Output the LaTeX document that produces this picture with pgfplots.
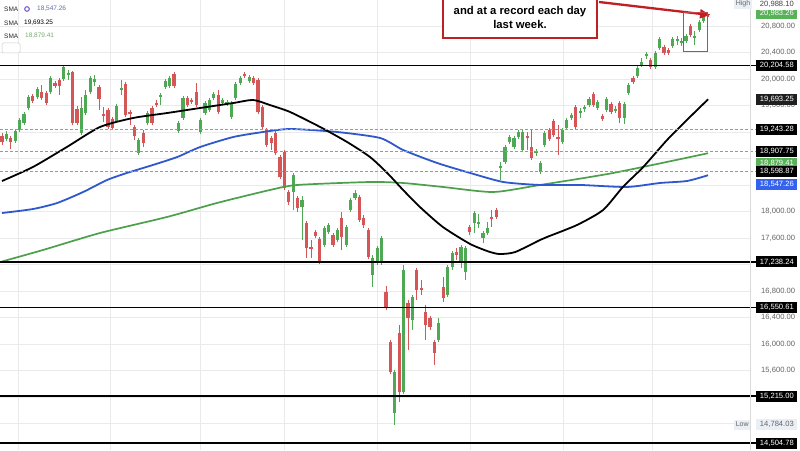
\documentclass[border=0pt]{standalone}
\usepackage{pgfplots}
\pgfplotsset{compat=1.18}
\usepackage{pgfplotstable}
\usepackage{fontspec}
\setmainfont{Liberation Sans}
\usetikzlibrary{arrows.meta}

\definecolor{cgreen}{RGB}{78,168,84}
\definecolor{cred}{RGB}{212,86,86}
\definecolor{smablue}{RGB}{48,88,205}
\definecolor{smagreen}{RGB}{76,160,76}
\definecolor{lblgreen}{RGB}{88,178,88}
\definecolor{lblblue}{RGB}{52,98,238}
\definecolor{annred}{RGB}{192,32,36}
\definecolor{gridc}{RGB}{234,234,236}
\definecolor{tickc}{RGB}{100,100,100}
\definecolor{hlbg}{RGB}{234,239,246}
\definecolor{iconc}{RGB}{125,95,205}
\definecolor{leg1}{RGB}{95,110,160}
\definecolor{leg3}{RGB}{120,172,110}

% i open high low close  (green = close >= open)
\pgfplotstableread{
i o h l c
1 19094 19215 19064 19169
3 19064 19245 19034 19215
4 19230 19411 19200 19381
5 19335 19501 19305 19471
6 19562 19758 19532 19728
8 19728 19879 19698 19849
11 19803 20045 19773 20015
14 20000 20204.58 19969 20181
15 20060 20135 19984 20090
18 19184 19728 19154 19562
19 19486 19833 19456 19758
20 19803 20045 19773 20015
21 19954 20060 19894 20000
26 19366 19622 19335 19592
27 19833 19984 19758 19864
31 18883 19109 18852 19079
33 19335 19517 19305 19486
36 19728 19788 19607 19758
37 19879 20000 19849 19969
38 19894 20045 19864 20015
40 19215 19366 19184 19335
41 19411 19743 19381 19713
45 19200 19411 19169 19381
46 19486 19668 19456 19637
47 19532 19713 19501 19683
48 19713 19803 19683 19773
50 19637 19713 19607 19683
51 19622 19683 19592 19652
52 19426 19668 19396 19637
53 19713 19954 19683 19924
54 19939 20045 19909 20015
56 19969 20060 19939 20030
66 18294 18581 18022 18551
68 18068 18234 17569 18173
73 17494 17781 17464 17751
74 17690 17826 17660 17796
76 17569 17751 17539 17720
78 17494 17796 17464 17766
79 18022 18203 17992 18173
80 18203 18324 18173 18279
84 17041 17343 16860 17298
85 17222 17479 17192 17449
86 17222 17630 17192 17600
89 14958 15607 14784.03 15577
91 15275 17192 15245 17117
93 16362 16739 16211 16709
99 16060 16392 16030 16317
101 16739 17192 16709 17162
102 17162 17403 17117 17373
104 17222 17494 17147 17464
105 17086 17479 16966 17449
107 17826 18007 17675 17977
108 17811 17962 17751 17841
109 17600 17705 17524 17675
110 17675 17841 17645 17751
113 18656 18747 18475 18686
114 18747 19003 18717 18973
115 19049 19154 19018 19124
116 18973 19139 18943 19109
117 19124 19230 19094 19200
118 18928 19230 18898 19200
121 18883 18943 18837 18913
122 18596 18762 18566 18732
123 19003 19215 18973 19184
127 19049 19260 19018 19230
128 19260 19411 19230 19381
129 19411 19486 19381 19456
131 19486 19562 19411 19517
132 19547 19607 19501 19577
133 19607 19728 19577 19698
135 19562 19683 19532 19652
137 19532 19728 19501 19698
139 19517 19592 19486 19547
141 19411 19652 19320 19622
142 19788 19939 19758 19909
144 20045 20196 20015 20166
145 20211 20317 20181 20256
146 20347 20407 20301 20377
148 20181 20422 20150 20392
149 20467 20633 20437 20603
152 20498 20633 20467 20603
153 20573 20649 20513 20603
154 20543 20618 20498 20573
155 20573 20679 20543 20649
157 20618 20724 20513 20649
158 20739 20890 20709 20860
159 20875 20980 20845 20966
}\greencandles

\pgfplotstableread{
i o h l c
0 19139 19184 19003 19049
2 19109 19139 18943 19049
7 19743 19773 19637 19668
9 19803 19909 19683 19713
10 19788 19818 19607 19637
12 19939 19969 19864 19894
13 19984 20015 19758 19894
16 20105 20120 19305 19335
17 19547 19592 19305 19335
22 19879 19909 19532 19698
23 19471 19577 19350 19441
24 19532 19562 19245 19275
25 19396 19426 19230 19260
28 19924 19954 19426 19456
29 19501 19532 19305 19471
30 19275 19305 19079 19139
32 19184 19230 18973 19034
34 19562 19592 19305 19335
35 19637 19683 19577 19607
39 20075 20105 19864 19894
42 19713 19743 19577 19607
43 19683 19713 19622 19652
44 19803 19939 19577 19607
49 19758 19833 19471 19501
55 20075 20105 20015 20045
57 20015 20045 19909 19939
58 19984 20015 19471 19501
59 19577 19607 19245 19275
60 19230 19260 18973 19003
61 19109 19139 18928 19034
62 19184 19215 18852 18883
63 18822 18852 18490 18520
64 18898 18928 18324 18354
65 18294 18324 18098 18143
67 18203 18234 17992 18052
69 17826 17856 17298 17449
70 17464 17569 17298 17434
71 17690 17720 17600 17630
72 17585 17615 17207 17237
75 17645 17675 17464 17494
77 17902 17992 17419 17615
81 18219 18249 17841 17871
82 17902 17947 17751 17796
83 17720 17751 17283 17313
87 16785 16875 16513 16543
88 16030 16060 15547 15577
90 16166 16286 15124 15275
92 16619 16664 15909 16392
94 17117 17147 16664 16815
95 16845 16966 16739 16815
96 16483 16588 16060 16286
97 16392 16422 16211 16256
98 16030 16060 15683 15864
100 16860 17011 16634 16694
103 17388 17449 17268 17343
106 17766 17796 17645 17690
111 17917 18022 17766 17886
112 18022 18052 17886 17917
119 19139 19200 18928 19109
120 18973 19230 18777 18807
124 19230 19260 19064 19094
125 19366 19396 19124 19154
126 19124 19305 18852 19094
130 19577 19607 19230 19275
134 19773 19803 19577 19607
136 19441 19471 19366 19396
138 19622 19652 19471 19501
140 19637 19668 19335 19411
143 20015 20045 19924 19954
147 20286 20317 20150 20181
150 20483 20513 20362 20392
151 20437 20467 20362 20392
156 20800 20830 20633 20664
160 20988 20988.10 20940 20983.26
}\redcandles

\tikzset{
  lbl/.style={anchor=west, minimum width=41pt, minimum height=11pt, inner sep=0pt,
    font=\fontsize{7.6}{8}\selectfont, text=white},
  tkl/.style={anchor=west, inner sep=0pt, font=\fontsize{7.6}{8}\selectfont, text=tickc},
}

\begin{document}
\begin{tikzpicture}
\useasboundingbox (0,0) rectangle (800pt,450pt);
\clip (0,0) rectangle (800pt,450pt);
\fill[white] (0,0) rectangle (800pt,450pt);
\begin{axis}[
  at={(0,0)}, anchor=south west,
  scale only axis, width=750pt, height=450pt,
  xmin=-0.45, xmax=169.5, ymin=14400, ymax=21192,
  clip=false,
  axis line style={draw=none},
  tick style={draw=none},
  xtick={3.6,24.5,44.9,63.9,85,106.1,127.1,147.3},
  xticklabels={},
  ytick={14800,15200,...,20800},
  yticklabels={},
  grid=major,
  grid style={gridc, line width=0.6pt},
]
% wicks
\addplot[draw=none, mark=none, forget plot, error bars/.cd, y dir=plus, y explicit, error mark=none,
  error bar style={draw=cgreen, line width=0.8pt}]
  table[x=i, y=l, y error plus expr={\thisrow{h}-\thisrow{l}}] {\greencandles};
\addplot[draw=none, mark=none, forget plot, error bars/.cd, y dir=plus, y explicit, error mark=none,
  error bar style={draw=cred, line width=0.8pt}]
  table[x=i, y=l, y error plus expr={\thisrow{h}-\thisrow{l}}] {\redcandles};
% bodies
\addplot[draw=none, mark=none, forget plot, error bars/.cd, y dir=plus, y explicit, error mark=none,
  error bar style={draw=cgreen, line width=3.2pt}]
  table[x=i, y=o, y error plus expr={\thisrow{c}-\thisrow{o}}] {\greencandles};
\addplot[draw=none, mark=none, forget plot, error bars/.cd, y dir=plus, y explicit, error mark=none,
  error bar style={draw=cred, line width=3.2pt}]
  table[x=i, y=c, y error plus expr={\thisrow{o}-\thisrow{c}}] {\redcandles};

% SMA lines
\addplot[smagreen, line width=1.7pt, smooth, tension=0.4, mark=none] coordinates {
(0,17245) (9.3,17419) (22.2,17675) (37.4,17917) (48.7,18128) (60.7,18324) (66.9,18400)
(83.4,18445) (90.9,18430) (99.9,18370) (111.3,18294) (121.9,18400) (138.5,18581) (160,18879.41)};
\addplot[smablue, line width=1.8pt, smooth, tension=0.4, mark=none] coordinates {
(0,17977) (7.0,18037) (12.5,18128) (18.4,18294) (23.8,18475) (28.3,18581) (34.2,18702)
(39.7,18822) (44.9,18973) (52.4,19124) (59.2,19200) (65.3,19245) (75.9,19200) (85.7,19109)
(90.9,18928) (98.6,18732) (106.1,18581) (113.6,18445) (121.9,18400) (131,18400)
(141.6,18370) (149.1,18430) (155.2,18460) (160,18547.26)};
\addplot[black, line width=1.8pt, smooth, tension=0.4, mark=none] coordinates {
(0,18460) (7.0,18671) (14.7,18973) (22.2,19275) (29.7,19411) (37.4,19486) (44.9,19562)
(52.4,19637) (56.9,19683) (60.7,19607) (65.3,19501) (72.1,19275) (78.2,19049) (83.4,18822)
(87.3,18581) (90.9,18324) (94.7,18068) (99.9,17766) (106.1,17509) (110.6,17388)
(112.9,17358) (116.3,17388) (121.9,17569) (123.5,17615) (130.3,17796) (136.2,18022)
(140.7,18370) (145.3,18671) (150.7,19079) (155.2,19381) (160,19693.25)};

% dashed levels
\draw[gray!80, line width=0.7pt, dash pattern=on 2.5pt off 2.5pt] (axis cs:-0.45,19243.28) -- (axis cs:170.9,19243.28);
\draw[gray!80, line width=0.7pt, dash pattern=on 2.5pt off 2.5pt] (axis cs:-0.45,18907.75) -- (axis cs:170.9,18907.75);
\draw[gray!80, line width=0.7pt, dash pattern=on 2.5pt off 2.5pt] (axis cs:-0.45,18598.87) -- (axis cs:170.9,18598.87);
% solid levels
\draw[black, line width=1.3pt] (axis cs:-0.45,20204.58) -- (axis cs:170.9,20204.58);
\draw[black, line width=1.3pt] (axis cs:-0.45,17238.24) -- (axis cs:170.9,17238.24);
\draw[black, line width=1.3pt] (axis cs:-0.45,16550.61) -- (axis cs:170.9,16550.61);
\draw[black, line width=1.3pt] (axis cs:-0.45,15215) -- (axis cs:170.9,15215);
\draw[black, line width=1.3pt] (axis cs:-0.45,14504.78) -- (axis cs:170.9,14504.78);

% right border
\draw[gray!30, line width=0.6pt] (rel axis cs:1,0) -- (rel axis cs:1,1);

% price scale (visible ticks)
\node[tkl] at (axis cs:172.0,20800) {20,800.00};
\node[tkl] at (axis cs:172.0,20400) {20,400.00};
\node[tkl] at (axis cs:172.0,20000) {20,000.00};
\node[tkl] at (axis cs:172.0,19600) {19,600.00};
\node[tkl] at (axis cs:172.0,18000) {18,000.00};
\node[tkl] at (axis cs:172.0,17600) {17,600.00};
\node[tkl] at (axis cs:172.0,16800) {16,800.00};
\node[tkl] at (axis cs:172.0,16400) {16,400.00};
\node[tkl] at (axis cs:172.0,16000) {16,000.00};
\node[tkl] at (axis cs:172.0,15600) {15,600.00};

% price labels
\node[lbl, fill=lblgreen] at (axis cs:170.9,20983.26) {20,983.26};
\node[lbl, fill=black] at (axis cs:170.9,20204.58) {20,204.58};
\node[lbl, fill=black!88] at (axis cs:170.9,19693.25) {19,693.25};
\node[lbl, fill=black] at (axis cs:170.9,19243.28) {19,243.28};
\node[lbl, fill=black] at (axis cs:170.9,18907.75) {18,907.75};
\node[lbl, fill=lblgreen] at (axis cs:170.9,18725) {18,879.41};
\node[lbl, fill=black] at (axis cs:170.9,18598.87) {18,598.87};
\node[lbl, fill=lblblue] at (axis cs:170.9,18405) {18,547.26};
\node[lbl, fill=black] at (axis cs:170.9,17238.24) {17,238.24};
\node[lbl, fill=black] at (axis cs:170.9,16550.61) {16,550.61};
\node[lbl, fill=black] at (axis cs:170.9,15215) {15,215.00};
\node[lbl, fill=black] at (axis cs:170.9,14504.78) {14,504.78};
% high / low
\node[anchor=west, fill=hlbg, inner sep=1.5pt, minimum height=10pt, font=\fontsize{7}{8}\selectfont, text=tickc] at (axis cs:165.9,21130) {High};
\node[lbl, fill=white, text=black!75] at (axis cs:170.9,21130) {20,988.10};
\node[anchor=west, fill=hlbg, inner sep=1.5pt, minimum height=10pt, font=\fontsize{7}{8}\selectfont, text=tickc] at (axis cs:165.9,14784) {Low};
\node[lbl, fill=hlbg, text=tickc] at (axis cs:170.9,14784) {14,784.03};
\end{axis}

% legend
\begin{scope}[font=\fontsize{6.5}{7}\selectfont]
\node[anchor=west, inner sep=0pt, text=black!85] at (4pt,441pt) {SMA};
\draw[iconc, line width=1.1pt] (27pt,441pt) circle (2.3pt);
\node[anchor=west, inner sep=0pt, text=leg1] at (37pt,441pt) {18,547.26};
\node[anchor=west, inner sep=0pt, text=black!85] at (4pt,427pt) {SMA};
\node[anchor=west, inner sep=0pt, text=black] at (24pt,427pt) {19,693.25};
\node[anchor=west, inner sep=0pt, text=black!85] at (4pt,414pt) {SMA};
\node[anchor=west, inner sep=0pt, text=leg3] at (25pt,414pt) {18,879.41};
\end{scope}
\draw[gray!40, line width=0.5pt, fill=white, rounded corners=1.5pt] (2pt,397pt) rectangle (20pt,407pt);

% annotation
\draw[annred, line width=1.5pt, fill=white] (443pt,412pt) rectangle (597pt,462pt);
\node[font=\bfseries\fontsize{11.3}{14}\selectfont, align=center, inner sep=0pt] at (520pt,433pt)
  {and at a record each day\\last week.};
\draw[annred, line width=2.3pt, -{Triangle[length=10pt, width=9pt]}] (599pt,448pt) -- (710pt,435pt);
\draw[annred!85, line width=0.8pt] (683pt,399pt) rectangle (707pt,438pt);
\end{tikzpicture}
\end{document}
